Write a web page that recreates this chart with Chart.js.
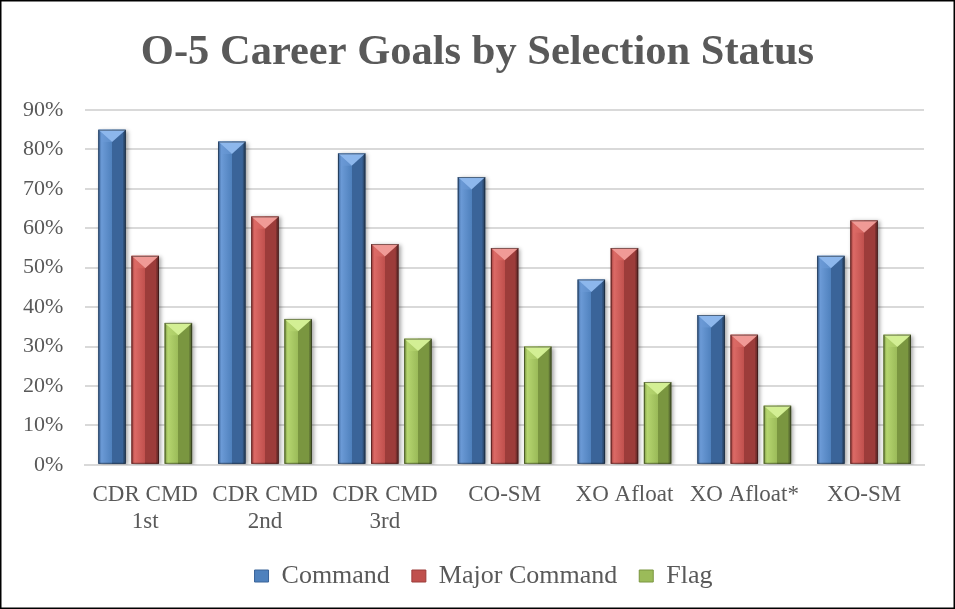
<!DOCTYPE html>
<html>
<head>
<meta charset="utf-8">
<script src="https://cdn.jsdelivr.net/npm/chart.js@4"></script>
<style>
  html, body { margin: 0; padding: 0; background: #fff; }
  #wrap { width: 955px; height: 609px; }
</style>
</head>
<body>
<div id="wrap"><canvas id="grafico" width="955" height="609"></canvas></div>
<script>
const categorias = [['CDR CMD', '1st'], ['CDR CMD', '2nd'], ['CDR CMD', '3rd'], 'CO-SM', 'XO Afloat', 'XO Afloat*', 'XO-SM'];
const command = [85, 82, 79, 73, 47, 38, 53];
const majorCommand = [53, 63, 56, 55, 55, 33, 62];
const flag = [36, 37, 32, 30, 21, 15, 33];
const ticksY = [0, 10, 20, 30, 40, 50, 60, 70, 80, 90];

// cores: base, claro, escuro, topo
const cores = [
  ['#4F81BD', '#6b9ad6', '#3a6499', '#8db7ec'],
  ['#C0504D', '#dc6a66', '#9c3c3a', '#f09a96'],
  ['#9BBB59', '#b5d56f', '#7a9640', '#d3ef94']
];

const serif = "'Liberation Serif', 'Times New Roman', serif";

// bordas do quadro + centraliza titulo e legenda no quadro todo
const moldura = {
  id: 'moldura',
  afterLayout(chart) {
    const t = chart.titleBlock, lg = chart.legend;
    if (t) { t.left += 15; t.right += 15; }
    if (lg) { lg.left += 21; lg.right += 21; }
  },
  afterDraw(chart) {
    const c = chart.ctx;
    c.save();
    c.strokeStyle = '#000';
    c.lineWidth = 1.5;
    c.strokeRect(0.75, 0.75, chart.width - 1.5, chart.height - 1.5);
    c.restore();
  }
};

// efeito 3D nas barras (usa as posições calculadas pelo próprio Chart.js)
const bisel = {
  id: 'bisel',
  beforeDatasetsDraw(chart) {
    const c = chart.ctx;
    c.save();
    c.shadowColor = 'rgba(0,0,0,0.35)';
    c.shadowBlur = 4;
    c.shadowOffsetX = 2;
    c.shadowOffsetY = 1;
  },
  afterDatasetsDraw(chart) {
    const c = chart.ctx;
    c.restore();
    chart.data.datasets.forEach((ds, i) => {
      const meta = chart.getDatasetMeta(i);
      if (meta.hidden) return;
      const cor = cores[i];
      meta.data.forEach(bar => {
        const w = bar.width, l = bar.x - w / 2, r = bar.x + w / 2;
        const t = bar.y, b = bar.base;
        const h = b - t;
        if (h <= 0) return;
        const g = c.createLinearGradient(l, 0, r, 0);
        g.addColorStop(0, cor[2]);
        g.addColorStop(0.12, cor[1]);
        g.addColorStop(0.5, cor[0]);
        g.addColorStop(0.5, cor[2]);
        g.addColorStop(0.88, cor[2]);
        g.addColorStop(1, '#00000055');
        c.save();
        c.fillStyle = g;
        c.fillRect(l, t, w, h);
        // facetas de cima
        const d = Math.min(w * 0.45, h);
        c.fillStyle = cor[3];
        c.beginPath();
        c.moveTo(l, t); c.lineTo(r, t); c.lineTo(bar.x, t + d); c.closePath();
        c.fill();
        c.fillStyle = cor[1];
        c.beginPath();
        c.moveTo(l, t); c.lineTo(bar.x, t + d); c.lineTo(l + 3, t + d); c.lineTo(l + 3, t + 2); c.closePath();
        c.globalAlpha = 0.6;
        c.fill();
        c.globalAlpha = 1;
        c.strokeStyle = 'rgba(0,0,0,0.45)';
        c.lineWidth = 1;
        c.strokeRect(l + 0.5, t + 0.5, w - 1, h - 1);
        c.restore();
      });
    });
  }
};

const ctx = document.getElementById('grafico');

new Chart(ctx, {
  type: 'bar',
  data: {
    labels: categorias,
    datasets: [
      { label: 'Command', data: command, backgroundColor: cores[0][0] },
      { label: 'Major Command', data: majorCommand, backgroundColor: cores[1][0] },
      { label: 'Flag', data: flag, backgroundColor: cores[2][0] }
    ]
  },
  options: {
    responsive: false,
    animation: false,
    layout: { padding: { left: 1, right: 31, top: 0, bottom: 10 } },
    datasets: { bar: { barPercentage: 0.83, categoryPercentage: 0.83 } },
    plugins: {
      title: {
        display: true,
        text: 'O-5 Career Goals by Selection Status',
        color: '#595959',
        font: { family: serif, size: 42.5, weight: 'bold' },
        padding: { top: 28, bottom: 31 }
      },
      legend: {
        position: 'bottom',
        labels: {
          color: '#595959',
          font: { family: serif, size: 26 },
          boxWidth: 14,
          boxHeight: 12,
          padding: 22,
          generateLabels(chart) {
            return chart.data.datasets.map((ds, i) => ({
              text: ds.label,
              fillStyle: cores[i][0],
              strokeStyle: cores[i][2],
              lineWidth: 1,
              fontColor: '#595959',
              datasetIndex: i
            }));
          }
        }
      },
      tooltip: { enabled: false }
    },
    scales: {
      x: {
        grid: { display: false, drawTicks: false },
        border: { color: '#d9d9d9', width: 2 },
        afterFit(axis) { axis.height -= 11; },
        ticks: {
          color: '#595959',
          font: { family: serif, size: 23, lineHeight: 1.2 },
          padding: 16,
          maxRotation: 0
        }
      },
      y: {
        min: 0,
        max: 90,
        afterBuildTicks(axis) { axis.ticks = ticksY.map(v => ({ value: v })); },
        grid: { color: '#d9d9d9', lineWidth: 2, drawTicks: false },
        border: { display: false },
        ticks: {
          color: '#595959',
          font: { family: serif, size: 22 },
          padding: 22,
          callback: v => v + '%'
        }
      }
    }
  },
  plugins: [bisel, moldura]
});
</script>
</body>
</html>
